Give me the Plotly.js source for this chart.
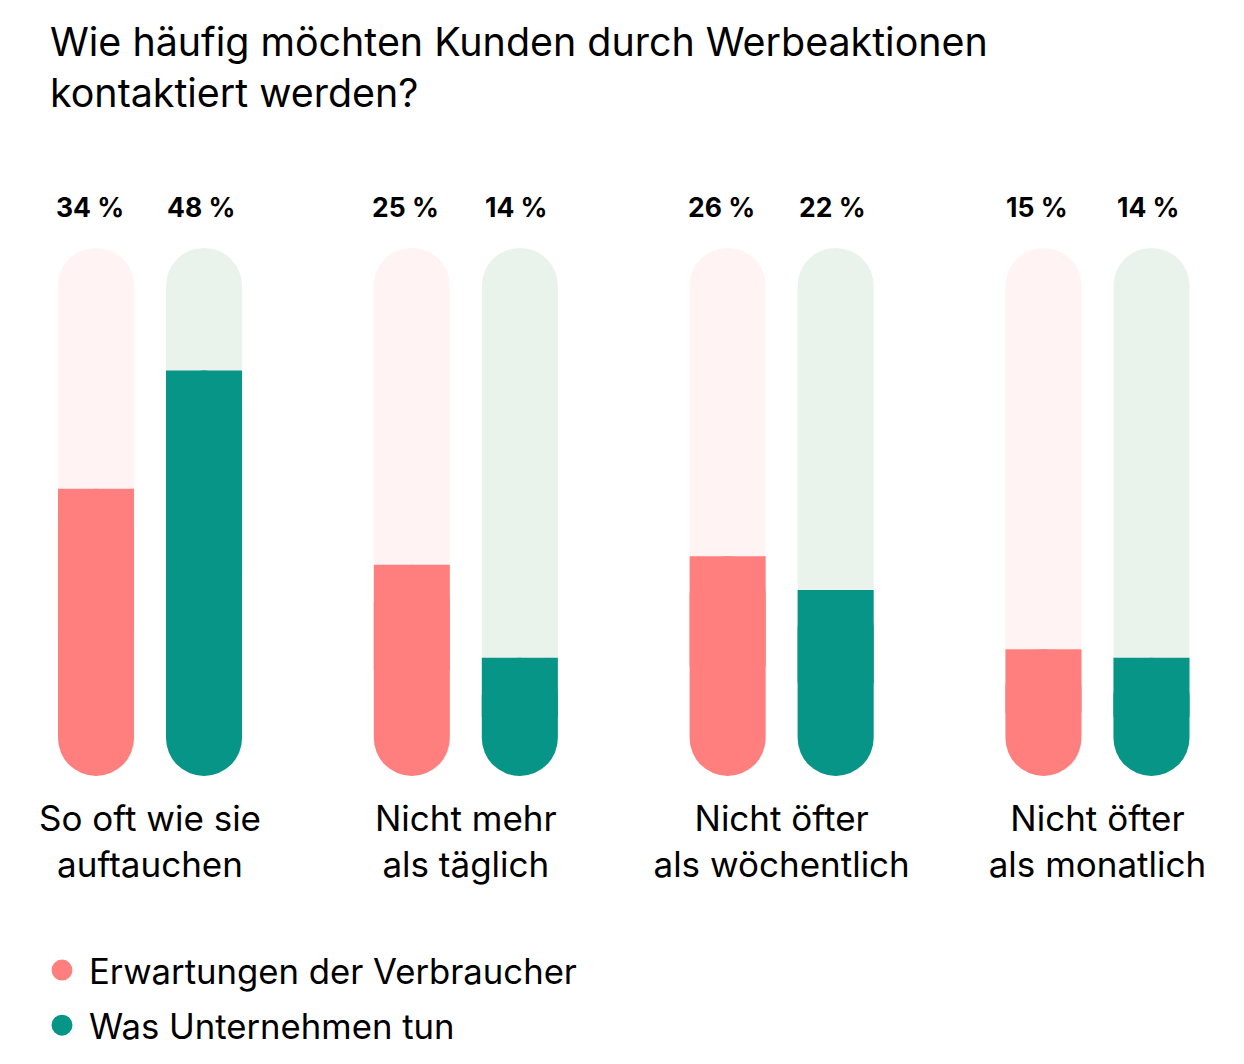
<!DOCTYPE html>
<html>
<head>
<meta charset="utf-8">
<script src="https://cdn.plot.ly/plotly-3.0.1.min.js"></script>
<style>
  html, body { margin: 0; padding: 0; background: #ffffff; }
  #chart { width: 1244px; height: 1064px; }
</style>
</head>
<body>
<div id="chart"></div>
<script>
// ---- data ----
const categories = [
  "So oft wie sie<br>auftauchen",
  "Nicht mehr<br>als täglich",
  "Nicht öfter<br>als wöchentlich",
  "Nicht öfter<br>als monatlich"
];
const seriesNames = ["Erwartungen der Verbraucher", "Was Unternehmen tun"];
const consumerValues = [34, 25, 26, 15];
const companyValues = [48, 14, 22, 14];
const trackMax = 62.5; // height of the background track (scale units)
const valueSuffix = " %";

// ---- style ----
const FONT = "Inter, 'Noto Sans', Roboto, sans-serif";
const colConsumer = "#FF7F7F";
const colCompany = "#079587";
const trackConsumer = "#FFF4F3";
const trackCompany = "#E9F3EC";

const zeros = categories.map(() => 0);

// background track: floating bar (base set) -> rounded at both ends
function trackTrace(group, color) {
  return { type: "bar", x: categories, y: categories.map(() => trackMax), base: zeros,
    offsetgroup: group, marker: { color: color, cornerradius: "50%", line: {width: 0} },
    showlegend: false, hoverinfo: "skip" };
}
// value bar: rounded at both ends ...
function valueTrace(group, values, color, name) {
  return { type: "bar", x: categories, y: values, base: zeros, name: name,
    offsetgroup: group, marker: { color: color, cornerradius: "50%", line: {width: 0} },
    showlegend: false, hovertemplate: "%{x}: %{y}" + valueSuffix + "<extra></extra>" };
}
// ... with its upper half redrawn square so the top edge is flat
function valueTopTrace(group, values, color, name) {
  return { type: "bar", x: categories, y: values.map(v => v / 2), base: values.map(v => v / 2), name: name,
    offsetgroup: group, marker: { color: color, cornerradius: 0, line: {width: 0} },
    showlegend: false, hoverinfo: "skip" };
}
function legendTrace(color, name, grp) {
  return { type: "scatter", mode: "markers", x: [null], y: [null], name: name,
    legendgroup: grp, marker: { color: color, size: 24, symbol: "circle", line: { color: color, width: 8 } },
    showlegend: true };
}

const traces = [
  trackTrace("a", trackConsumer),
  valueTrace("a", consumerValues, colConsumer, seriesNames[0]),
  valueTopTrace("a", consumerValues, colConsumer, seriesNames[0]),
  trackTrace("b", trackCompany),
  valueTrace("b", companyValues, colCompany, seriesNames[1]),
  valueTopTrace("b", companyValues, colCompany, seriesNames[1]),
  legendTrace(colConsumer, seriesNames[0], "g1"),
  legendTrace(colCompany, seriesNames[1], "g2")
];

const annotations = [];
categories.forEach((c, i) => {
  annotations.push({ x: c, y: trackMax + 4.8, xref: "x", yref: "y", xshift: -60,
    text: consumerValues[i] + valueSuffix, showarrow: false,
    font: { family: FONT, size: 26.5, color: "#000", weight: 700 } });
  annotations.push({ x: c, y: trackMax + 4.8, xref: "x", yref: "y", xshift: 51,
    text: companyValues[i] + valueSuffix, showarrow: false,
    font: { family: FONT, size: 26.5, color: "#000", weight: 700 } });
});

const layout = {
  width: 1244, height: 1064,
  paper_bgcolor: "#ffffff", plot_bgcolor: "#ffffff",
  margin: { l: 0, r: 0, t: 100, b: 288 },
  font: { family: FONT, color: "#000" },
  title: {
    text: "Wie häufig möchten Kunden durch Werbeaktionen<br>kontaktiert werden?",
    x: 50 / 1244, xref: "container", xanchor: "left",
    y: 1 - 56 / 1064, yref: "container", yanchor: "top",
    font: { family: FONT, size: 39.4, color: "#000" }
  },
  barmode: "group",
  bargap: 0.316,
  bargroupgap: 0.296,
  xaxis: {
    type: "category",
    range: [-0.475, 3.464],
    showgrid: false, zeroline: false, showline: false, ticks: "",
    tickfont: { family: FONT, size: 35, color: "#000" },
    ticklabelstandoff: 19,
    fixedrange: true
  },
  yaxis: {
    range: [0, 80],
    visible: false, showgrid: false, zeroline: false, fixedrange: true
  },
  showlegend: true,
  legend: {
    x: 35 / 1244, xanchor: "left", y: 1 - 941 / 1064, yanchor: "top", yref: "container",
    orientation: "v",
    itemwidth: 44,
    font: { family: FONT, size: 34.7, color: "#000" },
    tracegroupgap: 7,
    itemclick: false, itemdoubleclick: false,
    bgcolor: "rgba(0,0,0,0)"
  },
  annotations: annotations
};

Plotly.newPlot("chart", traces, layout, { displayModeBar: false });
</script>
</body>
</html>
